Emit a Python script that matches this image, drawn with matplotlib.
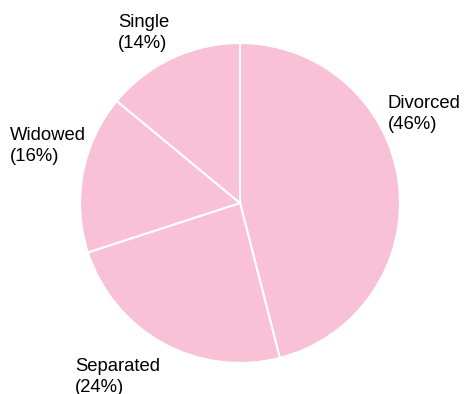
import matplotlib.pyplot as plt

plt.rcParams['font.family'] = ['Liberation Sans', 'DejaVu Sans']

status = ['Divorced', 'Separated', 'Widowed', 'Single']
share = [46, 24, 16, 14]

# where each label's left edge / vertical middle sits (pie radius = 1)
label_pos = [(0.925, 0.556), (-1.03, -1.085), (-1.4375, 0.356), (-0.7625, 1.06)]

fig = plt.figure(figsize=(4.65, 3.94), dpi=100)
ax = fig.add_axes([0, 0, 1, 1])

ax.pie(share, startangle=90, counterclock=False, colors=['#f8c1d5'] * len(share),
       wedgeprops=dict(edgecolor='white', linewidth=1.5))

for name, pct, (lx, ly) in zip(status, share, label_pos):
    ax.text(lx, ly, f'{name}\n({pct}%)', ha='left', va='center', multialignment='left',
            fontsize=13.3, color='#000000', linespacing=1.3)

ax.set_xlim(-1.5, 1.406)
ax.set_ylim(-1.194, 1.269)
ax.set_aspect('equal')
ax.axis('off')

fig.savefig('out.png', dpi=100)
